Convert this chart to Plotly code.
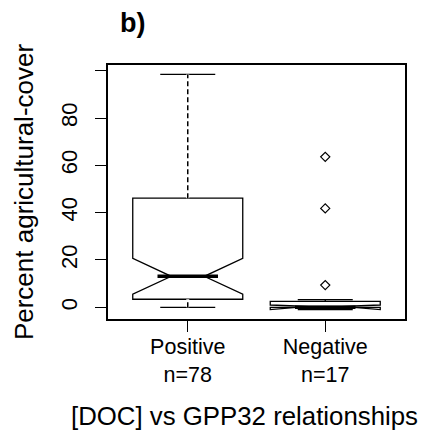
import plotly.graph_objects as go

# Data
groups = ["Positive", "Negative"]
group_pos = [1, 2]
n_labels = ["n=78", "n=17"]
q1 = [3.4, 0.0]
median = [13.1, 0.0]
q3 = [46.1, 2.5]
lowerfence = [0.0, 0.0]
upperfence = [98.4, 3.2]
notchspan = [7.6, 0.96]
neg_outliers = [63.6, 41.8, 9.4]

y_tickvals = [0, 20, 40, 60, 80, 100]
y_ticktext = ["0", "20", "40", "60", "80", ""]

BOX_W = 0.8
NOTCH_W = 0.35
MED_FRAC = 0.55
FONT = "Liberation Sans, Arial, sans-serif"

fig = go.Figure()
for i in range(2):
    fig.add_trace(go.Box(
        x=[group_pos[i]], q1=[q1[i]], median=[median[i]], q3=[q3[i]],
        lowerfence=[lowerfence[i]], upperfence=[upperfence[i]],
        notchspan=[notchspan[i]], notched=True, notchwidth=NOTCH_W,
        width=BOX_W, whiskerwidth=0.5, boxpoints=False,
        fillcolor="white", line=dict(color="black", width=1.3),
        showlegend=False, hoverinfo="skip"))
    # dashed whisker overlays (upper and lower)
    for a, b in [(q3[i], upperfence[i]), (lowerfence[i], q1[i])]:
        if b - a > 1:
            fig.add_trace(go.Scatter(x=[group_pos[i]] * 2, y=[a, b], mode="lines",
                                     line=dict(color="white", width=3),
                                     showlegend=False, hoverinfo="skip"))
            fig.add_trace(go.Scatter(x=[group_pos[i]] * 2, y=[a, b], mode="lines",
                                     line=dict(color="black", width=1.5, dash="5px,3px"),
                                     showlegend=False, hoverinfo="skip"))
    # thick median
    half = BOX_W / 2 * MED_FRAC
    fig.add_trace(go.Scatter(x=[group_pos[i] - half, group_pos[i] + half],
                             y=[median[i], median[i]], mode="lines",
                             line=dict(color="black", width=3.5),
                             showlegend=False, hoverinfo="skip"))

fig.add_trace(go.Scatter(x=[group_pos[1]] * len(neg_outliers), y=neg_outliers,
                         mode="markers",
                         marker=dict(symbol="diamond-open", size=7,
                                     color="black", line=dict(width=1.2)),
                         showlegend=False, hoverinfo="skip"))

fig.update_layout(
    width=431, height=435,
    margin=dict(l=100, r=34, t=57, b=124),
    paper_bgcolor="white", plot_bgcolor="white",
    font=dict(family=FONT, color="black", size=22),
    xaxis=dict(range=[0.42, 2.58], tickvals=group_pos,
               ticktext=[f"{g}<br>{n}" for g, n in zip(groups, n_labels)],
               ticks="outside", ticklen=11, tickwidth=1, tickcolor="black",
               showline=True, linecolor="black", linewidth=1.5, mirror=True,
               showgrid=False, zeroline=False, tickfont=dict(size=21.5),
               ticklabelstandoff=-4),
    yaxis=dict(range=[-4.95, 102.4], tickvals=y_tickvals, ticktext=y_ticktext,
               tickangle=-90, ticks="outside", ticklen=11, tickwidth=1,
               tickcolor="black", showline=True, linecolor="black",
               linewidth=1.5, mirror=True, showgrid=False, zeroline=False,
               tickfont=dict(size=22), ticklabelstandoff=9,
               title=dict(text="Percent agricultural-cover",
                          font=dict(size=26), standoff=16)),
    annotations=[
        dict(text="[DOC] vs GPP32 relationships", xref="paper", yref="paper",
             x=0.46, y=-0.38, xanchor="center", yanchor="middle",
             showarrow=False, font=dict(size=25.8)),
        dict(text="<b>b)</b>", xref="paper", yref="paper", x=0.035, y=1.165,
             xanchor="left", yanchor="middle", showarrow=False,
             font=dict(size=27)),
    ],
)

fig.write_html("out.html")
